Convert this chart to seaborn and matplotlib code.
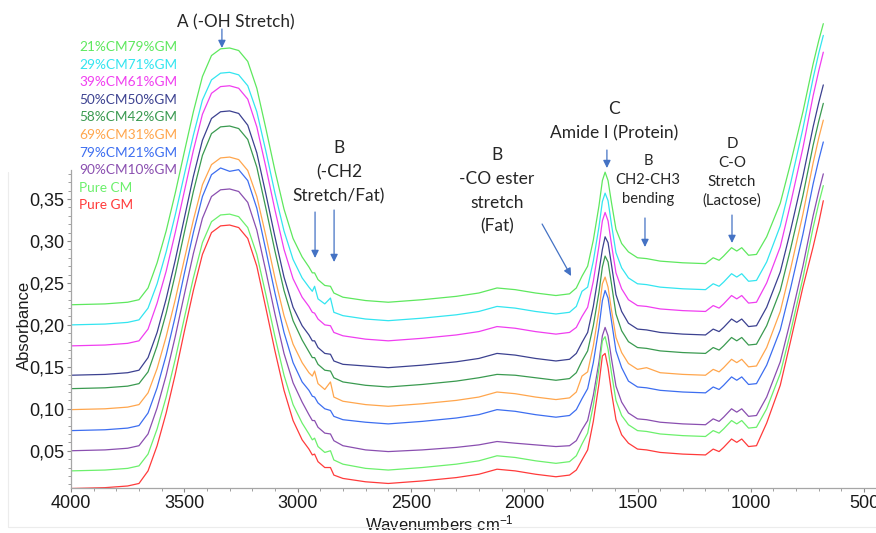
import matplotlib
matplotlib.use("Agg")
import matplotlib.pyplot as plt
import pandas as pd
import seaborn as sns
from matplotlib.ticker import FixedLocator, FuncFormatter

# ---------------- data ----------------
wavenumber = [4000, 3850, 3750, 3700, 3660, 3620, 3580, 3540, 3500, 3460, 3420, 3380,
              3340, 3300, 3260, 3220, 3180, 3140, 3100, 3060, 3020, 2980,
              2950, 2935, 2925, 2910, 2880, 2855, 2840, 2800,
              2700, 2600, 2450, 2300, 2200, 2120, 2040, 1950, 1860, 1800,
              1770, 1745, 1720, 1695, 1670, 1655, 1643, 1630, 1615, 1595, 1570,
              1540, 1500, 1460, 1400, 1300, 1200, 1166, 1140, 1120, 1085, 1062, 1040, 1010, 975,
              930, 870, 825, 770, 725, 700, 680]

cm21_gm79 = [0.224, 0.225, 0.227, 0.230, 0.244, 0.274, 0.312, 0.357, 0.406, 0.454, 0.496, 0.521,
             0.529, 0.530, 0.527, 0.514, 0.482, 0.434, 0.384, 0.338, 0.303, 0.281,
             0.269, 0.262, 0.262, 0.254, 0.247, 0.246, 0.238, 0.233,
             0.229, 0.227, 0.230, 0.234, 0.238, 0.244, 0.242, 0.238, 0.235, 0.237,
             0.244, 0.258, 0.270, 0.301, 0.342, 0.372, 0.382, 0.372, 0.346, 0.314, 0.297,
             0.287, 0.280, 0.279, 0.276, 0.274, 0.273, 0.280, 0.277, 0.282, 0.292, 0.288, 0.292, 0.283, 0.284,
             0.305, 0.345, 0.392, 0.454, 0.511, 0.539, 0.559]
cm29_gm71 = [0.200, 0.201, 0.203, 0.206, 0.220, 0.249, 0.287, 0.331, 0.379, 0.426, 0.468, 0.492,
             0.500, 0.501, 0.498, 0.485, 0.454, 0.407, 0.357, 0.312, 0.278, 0.256,
             0.245, 0.240, 0.246, 0.231, 0.225, 0.232, 0.215, 0.211,
             0.207, 0.205, 0.208, 0.212, 0.216, 0.222, 0.220, 0.216, 0.213, 0.215,
             0.222, 0.240, 0.245, 0.276, 0.317, 0.347, 0.357, 0.348, 0.320, 0.286, 0.268,
             0.256, 0.249, 0.248, 0.245, 0.243, 0.242, 0.249, 0.246, 0.251, 0.261, 0.257, 0.261, 0.252, 0.253,
             0.275, 0.318, 0.368, 0.434, 0.494, 0.524, 0.545]
cm39_gm61 = [0.175, 0.176, 0.178, 0.181, 0.195, 0.226, 0.264, 0.310, 0.359, 0.408, 0.451, 0.476,
             0.484, 0.485, 0.482, 0.469, 0.436, 0.388, 0.337, 0.290, 0.255, 0.233,
             0.222, 0.215, 0.214, 0.207, 0.200, 0.199, 0.191, 0.187,
             0.183, 0.181, 0.184, 0.188, 0.192, 0.198, 0.196, 0.192, 0.189, 0.191,
             0.197, 0.210, 0.221, 0.252, 0.294, 0.324, 0.334, 0.324, 0.296, 0.262, 0.243,
             0.230, 0.223, 0.222, 0.219, 0.217, 0.216, 0.223, 0.220, 0.225, 0.235, 0.231, 0.235, 0.226, 0.227,
             0.250, 0.293, 0.344, 0.411, 0.473, 0.503, 0.525]
cm50_gm50 = [0.140, 0.141, 0.143, 0.146, 0.161, 0.191, 0.231, 0.277, 0.327, 0.377, 0.420, 0.446,
             0.454, 0.455, 0.452, 0.438, 0.405, 0.356, 0.305, 0.257, 0.221, 0.199,
             0.188, 0.181, 0.181, 0.173, 0.166, 0.165, 0.157, 0.153,
             0.151, 0.149, 0.152, 0.156, 0.160, 0.166, 0.164, 0.160, 0.157, 0.159,
             0.166, 0.179, 0.191, 0.222, 0.264, 0.290, 0.305, 0.298, 0.272, 0.236, 0.216,
             0.202, 0.195, 0.194, 0.191, 0.189, 0.188, 0.195, 0.192, 0.197, 0.207, 0.203, 0.207, 0.198, 0.199,
             0.221, 0.263, 0.312, 0.377, 0.436, 0.465, 0.486]
cm58_gm42 = [0.124, 0.125, 0.127, 0.130, 0.144, 0.175, 0.214, 0.260, 0.310, 0.359, 0.402, 0.428,
             0.436, 0.437, 0.434, 0.421, 0.388, 0.339, 0.288, 0.241, 0.205, 0.182,
             0.168, 0.161, 0.161, 0.153, 0.146, 0.145, 0.137, 0.132,
             0.128, 0.126, 0.129, 0.133, 0.137, 0.141, 0.140, 0.137, 0.134, 0.136,
             0.143, 0.157, 0.169, 0.199, 0.239, 0.269, 0.282, 0.275, 0.249, 0.213, 0.193,
             0.180, 0.173, 0.172, 0.169, 0.167, 0.166, 0.173, 0.170, 0.175, 0.185, 0.181, 0.185, 0.176, 0.177,
             0.199, 0.241, 0.290, 0.354, 0.414, 0.443, 0.464]
cm69_gm31 = [0.099, 0.100, 0.102, 0.105, 0.119, 0.148, 0.186, 0.230, 0.278, 0.325, 0.367, 0.391,
             0.399, 0.400, 0.397, 0.384, 0.353, 0.306, 0.256, 0.211, 0.177, 0.155,
             0.143, 0.139, 0.145, 0.130, 0.123, 0.132, 0.114, 0.109,
             0.105, 0.103, 0.106, 0.110, 0.114, 0.120, 0.118, 0.114, 0.111, 0.113,
             0.120, 0.139, 0.144, 0.175, 0.217, 0.249, 0.257, 0.245, 0.218, 0.185, 0.167,
             0.154, 0.147, 0.149, 0.143, 0.141, 0.140, 0.147, 0.144, 0.149, 0.159, 0.155, 0.159, 0.150, 0.151,
             0.173, 0.216, 0.266, 0.332, 0.393, 0.423, 0.444]
cm79_gm21 = [0.074, 0.075, 0.077, 0.080, 0.095, 0.125, 0.164, 0.210, 0.261, 0.310, 0.353, 0.379,
             0.387, 0.383, 0.385, 0.372, 0.339, 0.289, 0.238, 0.191, 0.155, 0.132,
             0.122, 0.115, 0.114, 0.107, 0.100, 0.098, 0.091, 0.087,
             0.084, 0.082, 0.085, 0.089, 0.093, 0.099, 0.097, 0.093, 0.090, 0.092,
             0.099, 0.112, 0.124, 0.155, 0.197, 0.229, 0.241, 0.232, 0.205, 0.169, 0.149,
             0.133, 0.126, 0.125, 0.122, 0.120, 0.119, 0.126, 0.123, 0.128, 0.138, 0.134, 0.138, 0.129, 0.130,
             0.152, 0.194, 0.243, 0.308, 0.368, 0.397, 0.418]
cm90_gm10 = [0.050, 0.051, 0.053, 0.056, 0.070, 0.101, 0.140, 0.186, 0.236, 0.285, 0.327, 0.353,
             0.361, 0.362, 0.359, 0.346, 0.313, 0.264, 0.213, 0.166, 0.131, 0.108,
             0.093, 0.086, 0.086, 0.078, 0.071, 0.070, 0.062, 0.056,
             0.051, 0.049, 0.051, 0.054, 0.057, 0.061, 0.059, 0.057, 0.055, 0.056,
             0.062, 0.075, 0.086, 0.116, 0.156, 0.187, 0.197, 0.187, 0.160, 0.127, 0.108,
             0.095, 0.088, 0.087, 0.084, 0.082, 0.081, 0.088, 0.085, 0.090, 0.100, 0.096, 0.100, 0.091, 0.092,
             0.114, 0.156, 0.205, 0.270, 0.330, 0.359, 0.380]
pure_cm = [0.026, 0.027, 0.029, 0.032, 0.046, 0.076, 0.114, 0.159, 0.208, 0.256, 0.298, 0.323,
           0.331, 0.332, 0.329, 0.316, 0.284, 0.236, 0.186, 0.140, 0.105, 0.083,
           0.070, 0.063, 0.065, 0.055, 0.048, 0.050, 0.039, 0.034,
           0.029, 0.027, 0.030, 0.034, 0.038, 0.044, 0.042, 0.038, 0.035, 0.037,
           0.044, 0.058, 0.071, 0.104, 0.148, 0.181, 0.186, 0.171, 0.143, 0.110, 0.092,
           0.081, 0.074, 0.073, 0.070, 0.068, 0.067, 0.074, 0.071, 0.076, 0.086, 0.082, 0.086, 0.077, 0.078,
           0.100, 0.142, 0.191, 0.256, 0.316, 0.345, 0.366]
pure_gm = [0.005, 0.006, 0.008, 0.011, 0.026, 0.056, 0.095, 0.141, 0.192, 0.241, 0.284, 0.310,
           0.318, 0.319, 0.316, 0.303, 0.270, 0.220, 0.169, 0.122, 0.086, 0.063,
           0.052, 0.045, 0.046, 0.037, 0.030, 0.030, 0.021, 0.017,
           0.013, 0.011, 0.014, 0.018, 0.022, 0.028, 0.026, 0.022, 0.019, 0.021,
           0.027, 0.039, 0.051, 0.085, 0.130, 0.163, 0.166, 0.149, 0.120, 0.087, 0.069,
           0.059, 0.052, 0.051, 0.048, 0.046, 0.045, 0.052, 0.049, 0.054, 0.064, 0.060, 0.064, 0.055, 0.056,
           0.083, 0.128, 0.180, 0.245, 0.293, 0.322, 0.348]

series_labels = ["21%CM79%GM", "29%CM71%GM", "39%CM61%GM", "50%CM50%GM", "58%CM42%GM",
                 "69%CM31%GM", "79%CM21%GM", "90%CM10%GM", "Pure CM", "Pure GM"]
series_values = [cm21_gm79, cm29_gm71, cm39_gm61, cm50_gm50, cm58_gm42,
                 cm69_gm31, cm79_gm21, cm90_gm10, pure_cm, pure_gm]
series_colors = ["#5ee85e", "#33e5f0", "#f03ef0", "#3c4190", "#3a9a50",
                 "#ffa64d", "#3d6ef0", "#8a4fb0", "#6cf06c", "#ff3b3b"]

x_major = [4000, 3500, 3000, 2500, 2000, 1500, 1000, 500]
y_major = [0.05, 0.10, 0.15, 0.20, 0.25, 0.30, 0.35]

# ---------------- plot ----------------
sns.set_style("ticks")
plt.rcParams['font.family'] = ['Liberation Sans', 'DejaVu Sans']
plt.rcParams['mathtext.default'] = 'regular'

fig = plt.figure(figsize=(8.76, 5.33), dpi=100)
ax = fig.add_axes([71 / 876, 45 / 533, 805 / 876, 488 / 533])

df = pd.concat([pd.DataFrame({"Wavenumber": wavenumber, "Absorbance": vals, "Sample": lab})
                for lab, vals in zip(series_labels, series_values)], ignore_index=True)
sns.lineplot(data=df, x="Wavenumber", y="Absorbance", hue="Sample", hue_order=series_labels,
             palette=series_colors, estimator=None, sort=False, linewidth=0.9,
             legend=False, ax=ax)

ax.set_xlim(4000, 447.5)
ax.set_ylim(0.0056, 0.5872)

for s in ["top", "right"]:
    ax.spines[s].set_visible(False)
for s in ["left", "bottom"]:
    ax.spines[s].set_color("#a6a6a6")
    ax.spines[s].set_linewidth(0.9)
ax.spines["left"].set_bounds(0.0056, 0.385)

ax.xaxis.set_major_locator(FixedLocator(x_major))
ax.xaxis.set_minor_locator(FixedLocator([w for w in range(3900, 450, -100) if w % 500]))
ax.yaxis.set_major_locator(FixedLocator(y_major))
ax.yaxis.set_minor_locator(FixedLocator([i / 100 for i in range(1, 39) if i % 5]))
ax.yaxis.set_major_formatter(FuncFormatter(lambda v, _: f"{v:.2f}".replace(".", ",")))
ax.xaxis.set_major_formatter(FuncFormatter(lambda v, _: f"{int(v)}"))
ax.tick_params(axis="both", which="major", length=3, width=0.8, color="#8c8c8c",
               labelsize=13, labelcolor="#1a1a1a", pad=2)
ax.tick_params(axis="both", which="minor", length=2, width=0.7, color="#a0a0a0")

ax.set_xlabel("Wavenumbers cm$^{-1}$", fontsize=12, color="#1a1a1a")
ax.set_ylabel("Absorbance", fontsize=12, color="#1a1a1a")
ax.xaxis.set_label_coords(0.458, -0.052)
ax.yaxis.set_label_coords(-0.048, 0.334)

# legend: coloured text only
handles = ax.get_lines()[:len(series_labels)]
ax.legend(handles, series_labels, loc="upper left", bbox_to_anchor=(0.0099, 0.9158),
          frameon=False, handlelength=0, handletextpad=0, borderpad=0, borderaxespad=0,
          labelspacing=0.41, prop={"family": ["Lato", "DejaVu Sans"], "size": 9.8},
          labelcolor="linecolor")

# ---------------- annotations ----------------
tcol = "#262626"
acol = "#4472c4"
afont = ["Lato", "DejaVu Sans"]
notes = [
    ("A (-OH Stretch)", 3272, 0.5610, 12.3, 1.4),
    ("B\n(-CH2\nStretch/Fat)", 2817, 0.3822, 12.5, 1.6),
    ("B\n-CO ester\nstretch\n(Fat)", 2120, 0.3595, 12.5, 1.6),
    ("C\nAmide I (Protein)", 1604, 0.4424, 12.5, 1.62),
    ("B\nCH2-CH3\nbending", 1454, 0.3726, 10.6, 1.46),
    ("D\nC-O\nStretch\n(Lactose)", 1083, 0.3816, 10.9, 1.43),
]
for txt, x, y, fs, ls in notes:
    ax.text(x, y, txt, ha="center", va="center", fontsize=fs, family=afont,
            color=tcol, linespacing=ls)

arrows = [
    ((3334, 0.5526), (3334, 0.5300)),
    ((2923, 0.3345), (2923, 0.2797)),
    ((2839, 0.3369), (2839, 0.2749)),
    ((1921, 0.3202), (1793, 0.2582)),
    ((1635, 0.4084), (1635, 0.3869)),
    ((1467, 0.3274), (1467, 0.2928)),
    ((1083, 0.3309), (1083, 0.2976)),
]
for (x0, y0), (x1, y1) in arrows:
    ax.annotate("", xy=(x1, y1), xytext=(x0, y0),
                arrowprops=dict(arrowstyle="-|>,head_length=0.45,head_width=0.22",
                                color=acol, lw=0.9, shrinkA=0, shrinkB=0))

# faint chart-area frame
fig.add_artist(plt.Line2D([8 / 876, 8 / 876], [6 / 533, 361 / 533], color="#ececec", lw=0.8))
fig.add_artist(plt.Line2D([8 / 876, 1.0], [6 / 533, 6 / 533], color="#ececec", lw=0.8))

fig.savefig("out.png", dpi=100)
